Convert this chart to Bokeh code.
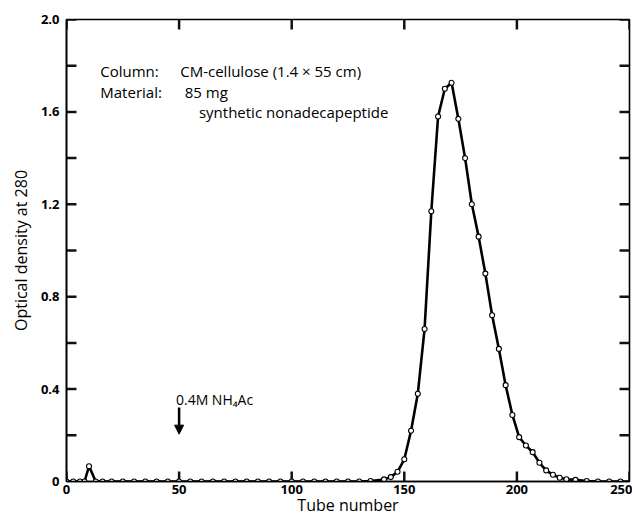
from bokeh.plotting import figure
from bokeh.models import (LinearAxis, FixedTicker, CustomJSTickFormatter, Label,
                          Arrow, NormalHead, ColumnDataSource)
from bokeh.embed import file_html
from bokeh.resources import INLINE

# ---- data ----
tubes = [0, 3, 6, 8, 10, 13, 16, 20, 25, 30, 35, 40, 45, 50, 55, 60, 65, 70, 75,
         80, 85, 90, 95, 100, 105, 110, 115, 120, 125, 130, 135, 141, 144, 147,
         150, 153, 156, 159, 162, 165, 168, 171, 174, 177, 180, 183, 186, 189,
         192, 195, 198, 201, 204, 207, 210, 213, 216, 219, 222, 226, 231, 236,
         241, 246]
od = [0.0, 0.0, 0.0, 0.0, 0.066, 0.0, 0.0, 0.0, 0.0, 0.0, 0.0, 0.0, 0.0, 0.0,
      0.0, 0.0, 0.0, 0.0, 0.0, 0.0, 0.0, 0.0, 0.0, 0.0, 0.0, 0.0, 0.0, 0.0, 0.0,
      0.0, 0.002, 0.009, 0.019, 0.042, 0.096, 0.22, 0.38, 0.66, 1.17, 1.58,
      1.70, 1.726, 1.57, 1.40, 1.20, 1.06, 0.90, 0.72, 0.574, 0.417, 0.288,
      0.192, 0.156, 0.127, 0.081, 0.048, 0.029, 0.016, 0.010, 0.007, 0.002,
      0.0, 0.0, 0.0]

x_ticks = [0, 50, 100, 150, 200, 250]
y_ticks = [0, 0.4, 0.8, 1.2, 1.6, 2.0]
y_minor = [0.2, 0.6, 1.0, 1.4, 1.8]
x_lo, x_hi = 0, 250
y_lo, y_hi = 0, 2.0

x_label = "Tube number"
y_label = "Optical density at 280"
note_lines = [("Column:", "CM-cellulose (1.4 \u00d7 55 cm)"),
              ("Material:", "85 mg")]
note_extra = "synthetic nonadecapeptide"
buffer_label = "0.4M NH\u2084Ac"
buffer_tube = 50
buffer_arrow_od = (0.32, 0.205)

FONT = "Open Sans"

W, H = 632, 518
BL, BT, BR, BB = 66, 19, 3, 37
frame_w = W - BL - BR
frame_h = H - BT - BB
TICK_PX = 10
tx = TICK_PX * (x_hi - x_lo) / frame_w   # tick length in data units
ty = TICK_PX * (y_hi - y_lo) / frame_h

p = figure(width=W, height=H, x_range=(x_lo, x_hi), y_range=(y_lo, y_hi),
           output_backend="svg", toolbar_location=None,
           min_border_left=BL, min_border_top=BT, min_border_right=BR,
           min_border_bottom=BB, x_axis_location=None, y_axis_location=None)
p.grid.visible = False
p.outline_line_color = "black"
p.outline_line_width = 1.6
p.background_fill_color = "white"
p.border_fill_color = "white"

fmt = CustomJSTickFormatter(code="return tick == 0 ? '0' : tick.toFixed(1);")


def style(ax):
    ax.major_tick_in = 0
    ax.major_tick_out = 0
    ax.minor_tick_in = 0
    ax.minor_tick_out = 0
    ax.axis_line_width = 1.6
    ax.major_label_text_font = FONT
    ax.major_label_text_font_size = "13px"
    ax.major_label_text_font_style = "bold"
    ax.major_label_text_color = "black"
    ax.axis_label_text_font = FONT
    ax.axis_label_text_font_size = "16px"
    ax.axis_label_text_font_style = "normal"
    ax.axis_label_text_color = "black"


xb = LinearAxis(ticker=FixedTicker(ticks=x_ticks), axis_label=x_label)
style(xb)
xb.major_label_standoff = 3
xb.axis_label_standoff = -3
p.add_layout(xb, "below")

yl = LinearAxis(ticker=FixedTicker(ticks=y_ticks, minor_ticks=y_minor),
                axis_label=y_label, formatter=fmt)
style(yl)
yl.major_label_standoff = 7
yl.axis_label_standoff = 6
p.add_layout(yl, "left")

# inward ticks on all four sides (built from the tick arrays)
all_y = sorted(y_ticks + y_minor)
tick_src_l = ColumnDataSource(data=dict(
    xs=[[x_lo, x_lo + tx] for _ in all_y], ys=[[v, v] for v in all_y]))
tick_src_r = ColumnDataSource(data=dict(
    xs=[[x_hi, x_hi - tx] for _ in all_y], ys=[[v, v] for v in all_y]))
tick_src_b = ColumnDataSource(data=dict(
    xs=[[v, v] for v in x_ticks], ys=[[y_lo, y_lo + ty] for _ in x_ticks]))
tick_src_t = ColumnDataSource(data=dict(
    xs=[[v, v] for v in x_ticks], ys=[[y_hi, y_hi - ty] for _ in x_ticks]))
for s in (tick_src_l, tick_src_r, tick_src_b, tick_src_t):
    p.multi_line("xs", "ys", source=s, line_color="#111111", line_width=2.5)

src = ColumnDataSource(data=dict(x=tubes, y=od))
p.line("x", "y", source=src, line_color="black", line_width=2.6)
p.scatter("x", "y", source=src, size=5, fill_color="white",
          line_color="black", line_width=1.1)

# annotation texts
note_y = [1.775, 1.688]
body_x = [50.5, 52.5]
for (head, body), yy, bx in zip(note_lines, note_y, body_x):
    p.add_layout(Label(x=15, y=yy, text=head, text_font=FONT,
                       text_font_size="15px", text_baseline="middle",
                       text_color="black"))
    p.add_layout(Label(x=bx, y=yy, text=body, text_font=FONT,
                       text_font_size="15px", text_baseline="middle",
                       text_color="black"))
p.add_layout(Label(x=58.8, y=1.601, text=note_extra, text_font=FONT,
                   text_font_size="15px", text_baseline="middle",
                   text_color="black"))

p.add_layout(Label(x=48.6, y=0.355, text=buffer_label, text_font=FONT,
                   text_font_size="14px", text_baseline="middle",
                   text_color="black"))
p.add_layout(Arrow(x_start=buffer_tube, y_start=buffer_arrow_od[0],
                   x_end=buffer_tube, y_end=buffer_arrow_od[1],
                   line_width=2.5, line_color="black",
                   end=NormalHead(size=9, fill_color="black",
                                  line_color="black")))

open("out.html", "w").write(file_html(p, INLINE))
